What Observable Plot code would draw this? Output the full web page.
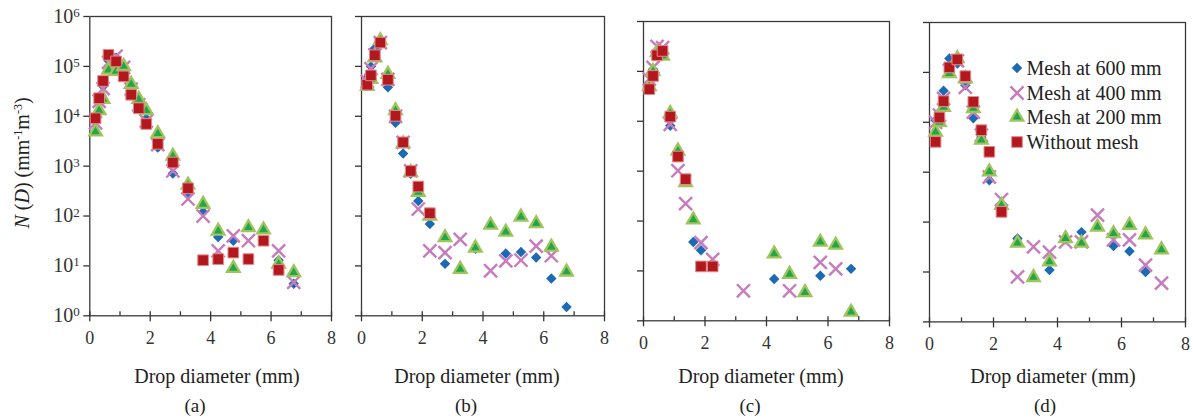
<!DOCTYPE html>
<html><head><meta charset="utf-8">
<script src="https://cdn.jsdelivr.net/npm/d3@7"></script>
<script src="https://cdn.jsdelivr.net/npm/@observablehq/plot@0.6"></script>
<style>
body{margin:0;background:#fff;}
#root{position:relative;width:1193px;height:418px;overflow:hidden;font-family:"Liberation Serif","Times New Roman",serif;color:#222;}
.ctr{position:absolute;white-space:nowrap;transform:translate(-50%,-50%);line-height:1;}
.ylab{position:absolute;white-space:nowrap;transform:translate(-50%,-50%) rotate(-90deg);font-size:20px;line-height:1;}
.ylab sup{font-size:0.6em;vertical-align:0.55em;line-height:0;}
.leg{position:absolute;font-size:20px;white-space:nowrap;line-height:1;}
</style></head><body><div id="root"></div>
<script>
// ---------- data ----------
const diam = [0.19, 0.31, 0.44, 0.62, 0.87, 1.12, 1.37, 1.62, 1.87, 2.25, 2.75, 3.25, 3.75, 4.25, 4.75, 5.25, 5.75, 6.25, 6.75, 7.25];
const seriesNames = ["Mesh at 600 mm", "Mesh at 400 mm", "Mesh at 200 mm", "Without mesh"];
const panelLabels = ["(a)", "(b)", "(c)", "(d)"];
const xTitle = "Drop diameter (mm)";
const xTicks = [0, 2, 4, 6, 8];
const xMinor = [1, 3, 5, 7];
const yTicks = [1, 10, 100, 1e3, 1e4, 1e5, 1e6];

// panel (a)
const a600 = [9000, 20000, 40000, 130000, 150000, 90000, 35000, 18000, 9000, 2350, 710, 300, 120, 38, 32, null, null, 13, 4.4, null];
const a400 = [7400, 20000, 36000, 120000, 160000, 95000, 35000, 17000, 8000, 2700, 800, 220, 100, 20, 40, 32, null, 20, 4.7, null];
const a200 = [4900, 13000, 22000, 85000, 80000, 100000, 44000, 22000, 13000, 4500, 1600, 420, 173, 50, 9, 59, 53, 11, 7.4, null];
const a0   = [9100, 23000, 51000, 170000, 126000, 63000, 27000, 14500, 7000, 2800, 1180, 360, 13, 13.7, 18.5, 13.7, 32, 8.3, null, null];
// panel (b)
const b600 = [60000, 100000, 230000, 300000, 38000, 7400, 1800, 700, 200, 69, 11, null, 22, null, 17.8, 19, 14.8, 5.6, 1.5, null];
const b400 = [50000, 90000, 170000, 300000, 55000, 10000, 3000, 800, 138, 20, 18.5, 34, null, 8, 12.6, 13, 25, 16, null, null];
const b200 = [40000, 55000, 150000, 330000, 70000, 13000, 2800, 750, 300, 100, 37, 8.6, 23, 66, 48, 96, 71, 24, 7.6, null];
const b0   = [43000, 66000, 167000, 300000, 54000, 10200, 3000, 800, 390, 114, null, null, null, null, null, null, null, null, null, null];
// panel (c)
const c600 = [60000, 110000, 230000, 250000, 8100, 2000, 600, 38, 26, null, null, null, null, 6.9, null, null, 8, null, 11, null];
const c400 = [70000, 120000, 316000, 300000, 8700, 1020, 224, null, 37, 17, null, 4, null, null, 4, null, 14.8, 11, null, null];
const c200 = [50000, 100000, 240000, 204000, 14500, 2550, 590, 106, null, null, null, null, null, 22, 8.6, 3.7, 38, 33, 1.5, null];
const c0   = [44000, 81000, 210000, 257000, 12400, 1960, 690, null, 12.3, 12.3, null, null, null, null, null, null, null, null, null, null];
// panel (d)
const d600 = [11000, 16000, 43000, 190000, 150000, 55000, 12000, 5000, 690, null, 47, null, 11, 45, 63, null, 33, 26, 10, null];
const d400 = [10000, 14000, 30000, 110000, 170000, 50000, 16000, 5500, 800, 283, 8, 32, 25, 40, 40, 138, 44, 44, 13.7, 6];
const d200 = [6400, 10000, 20000, 95000, 190000, 75000, 19000, 4400, 1020, 218, 38, 7.8, 16, 47, 38, 80, 59, 87, 56, 28];
const d0   = [4050, 12500, 26500, 126000, 182000, 84000, 25700, 6950, 2560, 160, null, null, null, null, null, null, null, null, null, null];

// ---------- styles / layout ----------
const styles = [
  {symbol: "diamond2", r: 4.7, fill: "#1B6AB3", stroke: "none"},
  {symbol: "times", r: 6, fill: "none", stroke: "#C67BBC", strokeWidth: 2.4},
  {symbol: "triangle2", r: 6, fill: "#22A64B", stroke: "#9EC45C", strokeWidth: 2.3},
  {symbol: "square2", r: 6.8, fill: "#B2191F", stroke: "#E58A8A", strokeWidth: 1}
];
const panels = [[a600, a400, a200, a0], [b600, b400, b200, b0], [c600, c400, c200, c0], [d600, d400, d200, d0]];
const geoms = [
  {left: 89.3, right: 331, top: 15.7, bottom: 315},
  {left: 361, right: 604, top: 15.7, bottom: 315},
  {left: 642.7, right: 888.7, top: 20.7, bottom: 320},
  {left: 929, right: 1185, top: 22.3, bottom: 321.7}
];
const titleX = [217, 477, 761, 1053];
const letterX = [195, 466, 750, 1045];
const FONT = "'Liberation Serif', 'Times New Roman', serif";
const root = document.getElementById("root");

panels.forEach((series, p) => {
  const g = geoms[p];
  const showY = p === 0;
  const rows = [];
  series.forEach((vals, s) => vals.forEach((v, i) => { if (v != null) rows.push({d: diam[i], n: v, s}); }));
  const ml = showY ? g.left : 16, mt = 14, mr = 12, mb = 40;
  const chart = Plot.plot({
    width: g.right - g.left + ml + mr,
    height: g.bottom - g.top + mt + mb,
    marginLeft: ml, marginRight: mr, marginTop: mt, marginBottom: mb,
    style: {fontFamily: FONT, fontSize: "18px", color: "#333", background: "transparent", overflow: "visible"},
    x: {domain: [0, 8]},
    y: {type: "log", domain: [1, 1e6]},
    marks: [
      Plot.frame({stroke: "#3a3a3a", strokeWidth: 1.3}),
      ...styles.map((st, s) => Plot.dot(rows.filter(r => r.s === s), {x: "d", y: "n", ...st})),
      Plot.axisY(yTicks, {tickSize: 6, strokeWidth: 1.3, label: null, fontSize: 20, tickPadding: 4,
        ...(showY ? {tickFormat: d => "10^" + Math.round(Math.log10(d))} : {text: null, tickFormat: () => ""})}),
      Plot.axisX(xTicks, {tickSize: 6, strokeWidth: 1.3, tickPadding: 9, label: null, fontSize: 18, tickFormat: d => String(d)}),
      Plot.axisX(xTicks, {tickSize: -4, strokeWidth: 1.3, label: null, text: null, tickFormat: () => ""}),
      Plot.axisX(xMinor, {tickSize: -4, strokeWidth: 1.3, label: null, text: null, tickFormat: () => ""})
    ]
  });
  chart.style.position = "absolute";
  chart.style.left = (g.left - ml) + "px";
  chart.style.top = (g.top - mt) + "px";
  if (showY) {
    chart.querySelectorAll("text").forEach(t => {
      const m = /^10\^(\d)$/.exec(t.textContent);
      if (m) {
        t.textContent = "10";
        const ts = document.createElementNS("http://www.w3.org/2000/svg", "tspan");
        ts.setAttribute("dy", "-0.45em");
        ts.setAttribute("font-size", "13");
        ts.textContent = m[1];
        t.appendChild(ts);
      }
    });
  }
  root.appendChild(chart);

  const tt = document.createElement("div");
  tt.className = "ctr"; tt.style.fontSize = "20px";
  tt.style.left = titleX[p] + "px"; tt.style.top = "376px";
  tt.textContent = xTitle;
  root.appendChild(tt);

  const pl = document.createElement("div");
  pl.className = "ctr"; pl.style.fontSize = "19px";
  pl.style.left = letterX[p] + "px"; pl.style.top = "405px";
  pl.textContent = panelLabels[p];
  root.appendChild(pl);
});

// y-axis title
const yl = document.createElement("div");
yl.className = "ylab";
yl.style.left = "22px"; yl.style.top = "163px";
yl.innerHTML = "<i>N</i> (<i>D</i>) (mm<sup>-1</sup>m<sup>-3</sup>)";
root.appendChild(yl);

// legend
const symMap = {diamond2: d3.symbolDiamond2, times: d3.symbolTimes, triangle2: d3.symbolTriangle2, square2: d3.symbolSquare2};
const legY = [68, 92.5, 117, 141.5];
seriesNames.forEach((name, s) => {
  const st = styles[s];
  const path = d3.symbol(symMap[st.symbol], Math.PI * st.r * st.r)();
  const svg = `<svg width="20" height="20" viewBox="-10 -10 20 20" style="position:absolute;left:-10px;top:-10px;overflow:visible"><path d="${path}" fill="${st.fill}" stroke="${st.stroke}" stroke-width="${st.strokeWidth || 0}"/></svg>`;
  const m = document.createElement("div");
  m.style.position = "absolute"; m.style.left = "1016.5px"; m.style.top = legY[s] + "px";
  m.innerHTML = svg;
  root.appendChild(m);
  const t = document.createElement("div");
  t.className = "leg";
  t.style.left = "1026.5px"; t.style.top = (legY[s] - 10) + "px";
  t.textContent = name;
  root.appendChild(t);
});
</script></body></html>
